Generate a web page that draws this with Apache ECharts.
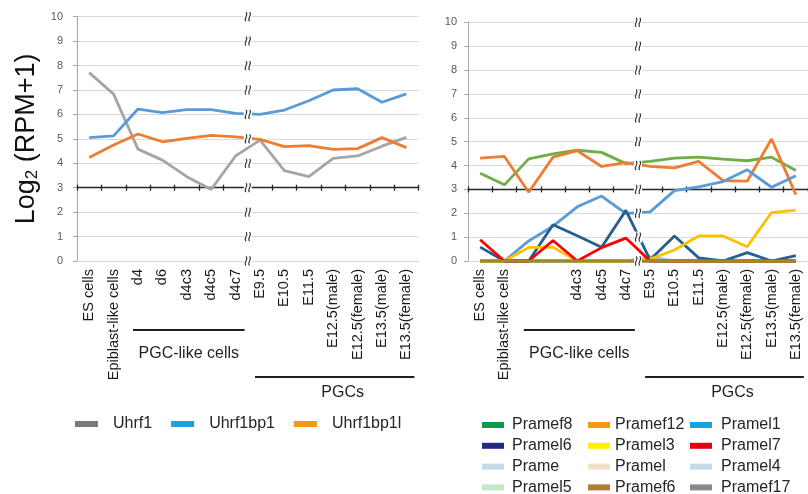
<!DOCTYPE html>
<html><head><meta charset="utf-8">
<script src="https://cdn.jsdelivr.net/npm/echarts/dist/echarts.min.js"></script>
<style>html,body{margin:0;padding:0;background:#fff}#c{width:808px;height:494px}</style>
</head><body><div id="c"></div>
<script>
// ---------- data ----------
const categories = ['ES cells','Epiblast-like cells','d4','d6','d4c3','d4c5','d4c7','E9.5','E10.5','E11.5','E12.5(male)','E12.5(female)','E13.5(male)','E13.5(female)'];
const rightTickLabels = ['ES cells','Epiblast-like cells','','','d4c3','d4c5','d4c7','E9.5','E10.5','E11.5','E12.5(male)','E12.5(female)','E13.5(male)','E13.5(female)'];
const groupLabels = ['PGC-like cells','PGCs'];

const uhrf1     = [7.71, 6.83, 4.58, 4.13, 3.45, 2.93, 4.30, 4.95, 3.70, 3.45, 4.20, 4.30, 4.70, 5.06];
const uhrf1bp1  = [5.05, 5.12, 6.22, 6.07, 6.20, 6.20, 6.04, 6.00, 6.18, 6.56, 7.00, 7.05, 6.50, 6.84];
const uhrf1bp1l = [4.24, 4.75, 5.20, 4.88, 5.02, 5.14, 5.08, 4.98, 4.68, 4.72, 4.57, 4.60, 5.05, 4.64];

const pramef8  = [3.68, 3.19, 4.28, 4.49, 4.64, 4.55, 4.08, 4.17, 4.31, 4.35, 4.27, 4.20, 4.35, 3.79];
const pramef12 = [4.31, 4.38, 2.88, 4.35, 4.62, 3.96, 4.12, 3.96, 3.90, 4.17, 3.37, 3.35, 5.11, 2.78];
const pramel1  = [0, 0, 0.84, 1.46, 2.27, 2.72, 1.99, 2.06, 2.95, 3.11, 3.33, 3.82, 3.09, 3.57];
const pramel6  = [0.58, 0, 0, 1.52, 1.06, 0.58, 2.12, 0.05, 1.05, 0.13, 0, 0.35, 0, 0.23];
const pramel3  = [0, 0, 0.57, 0.57, 0, 0, 0, 0.08, 0.46, 1.05, 1.05, 0.60, 2.03, 2.13];
const pramel7  = [0.89, 0, 0, 0.86, 0, 0.56, 0.96, 0, 0, 0, 0, 0, 0, 0];
const prame    = [0, 0, 0, 0, 0, 0, 0, 0.18, 0, 0, 0, 0, 0, 0];
const pramel   = [0, 0, 0, 0, 0, 0, 0, 0, 0, 0, 0, 0, 0, 0];
const pramel4  = [0, 0, 0, 0, 0, 0, 0, 0, 0, 0, 0, 0, 0, 0];
const pramel5  = [0, 0, 0, 0, 0, 0, 0, 0, 0, 0, 0, 0, 0, 0];
const pramef6  = [0, 0, 0, 0, 0, 0, 0, 0, 0, 0, 0, 0, 0, 0];
const pramef17 = [0, 0, 0, 0, 0, 0, 0, 0, 0, 0, 0, 0, 0, 0];

// ---------- styles ----------
const FONT = '"Liberation Sans", Arial, sans-serif';
const leftDefs = [
  {name:'Uhrf1', data:uhrf1, line:'#a5a5a5', legend:'#7b7b7b'},
  {name:'Uhrf1bp1', data:uhrf1bp1, line:'#5b9bd5', legend:'#1fa0e0'},
  {name:'Uhrf1bp1l', data:uhrf1bp1l, line:'#ed7d31', legend:'#f39a12'}
];
const rightDefs = [
  {name:'Prame', data:prame, line:'#a9c9e6', legend:'#c5dbe9'},
  {name:'Pramel', data:pramel, line:'#f2e0c8', legend:'#f2e0c8'},
  {name:'Pramel4', data:pramel4, line:'#c5dbe9', legend:'#c5dbe9'},
  {name:'Pramel5', data:pramel5, line:'#c6e6c8', legend:'#c6e6c8'},
  {name:'Pramef17', data:pramef17, line:'#898989', legend:'#898989'},
  {name:'Pramef8', data:pramef8, line:'#70ad47', legend:'#0e9a48'},
  {name:'Pramef12', data:pramef12, line:'#ed7d31', legend:'#f39a12'},
  {name:'Pramel1', data:pramel1, line:'#5b9bd5', legend:'#1aa1e1'},
  {name:'Pramel6', data:pramel6, line:'#255e91', legend:'#1f2a80'},
  {name:'Pramel3', data:pramel3, line:'#ffc000', legend:'#ffee00'},
  {name:'Pramel7', data:pramel7, line:'#ff0000', legend:'#e60012'},
  {name:'Pramef6', data:pramef6, line:'#9e8a24', legend:'#b07c3a'}
];
const rightLegendCols = [
  ['Pramef8','Pramel6','Prame','Pramel5'],
  ['Pramef12','Pramel3','Pramel','Pramef6'],
  ['Pramel1','Pramel7','Pramel4','Pramef17']
];

const chart = echarts.init(document.getElementById('c'));

const G = [
  {left:77, top:16.7, width:341.6, height:244.3},
  {left:468, top:22.3, width:340, height:238.7}
];
const grids = [
  Object.assign({outerBoundsMode:'none', containLabel:false}, G[0]),
  Object.assign({outerBoundsMode:'none', containLabel:false}, G[1]),
  {outerBoundsMode:'none', containLabel:false, left:G[0].left, top:G[0].top, width:G[0].width, height:G[0].height*0.7},
  {outerBoundsMode:'none', containLabel:false, left:G[1].left, top:G[1].top, width:G[1].width, height:G[1].height*0.7}
];

function mainX(gi, fmt){
  return {type:'category', gridIndex:gi, data:categories, boundaryGap:true, position:'bottom',
    axisLine:{show:true, onZero:false, lineStyle:{color:'#d9d9d9', width:1}},
    axisTick:{show:false},
    axisLabel:{show:true, interval:0, rotate:90, margin:8, fontSize:14.5, fontFamily:FONT, color:'#1a1a1a',
      formatter: fmt},
    splitLine:{show:false}};
}
function overlayX(gi, inside){
  return {type:'category', gridIndex:gi, data:categories, boundaryGap:true, position:'bottom',
    axisLine:{show:!inside, onZero:false, lineStyle:{color:'#262626', width:1.3}},
    axisTick:{show:true, inside:inside, length:3, interval:0, lineStyle:{color:'#262626', width:1.3}},
    axisLabel:{show:false}, splitLine:{show:false}};
}
function mainY(gi, withName, margin){
  const y = {type:'value', gridIndex:gi, min:0, max:10, interval:1,
    axisLine:{show:true, lineStyle:{color:'#a6a6a6', width:1}},
    axisTick:{show:true, length:4, lineStyle:{color:'#a6a6a6'}},
    axisLabel:{show:true, margin:margin, fontSize:11, fontFamily:FONT, color:'#595959'},
    splitLine:{show:true, lineStyle:{color:'#d9d9d9', width:1}}};
  if (withName) {
    y.name = '{a|Log}{b|2}{a| (RPM+1)}';
    y.nameLocation = 'middle';
    y.nameRotate = 90;
    y.nameGap = 36;
    y.nameTextStyle = {rich:{
      a:{fontSize:27, fontFamily:FONT, color:'#111'},
      b:{fontSize:17, fontFamily:FONT, color:'#111', verticalAlign:'bottom', padding:[12,0,0,0]}
    }};
  }
  return y;
}
function overlayY(gi){
  return {type:'value', gridIndex:gi, min:3, max:10, show:false, splitLine:{show:false}};
}

const series = [];
leftDefs.forEach(d => series.push({type:'line', name:d.name, data:d.data, xAxisIndex:0, yAxisIndex:0,
  symbol:'none', color:d.line, lineStyle:{color:d.line, width:2.8}, clip:false, z:3}));
rightDefs.forEach(d => series.push({type:'line', name:d.name, data:d.data, xAxisIndex:1, yAxisIndex:1,
  symbol:'none', color:d.line, lineStyle:{color:d.line, width:2.8}, clip:false, z:3}));

const colorOf = {};
leftDefs.concat(rightDefs).forEach(d => colorOf[d.name] = d.legend);
const legendText = {fontSize:16, fontFamily:FONT, color:'#262626'};

const legends = [
  {left:75, top:416, orient:'horizontal', padding:0, itemGap:19, itemWidth:23, itemHeight:6, icon:'rect',
   selectedMode:false, textStyle:Object.assign({padding:[0,0,0,10]}, legendText),
   data: leftDefs.map(d => ({name:d.name, itemStyle:{color:d.legend, borderWidth:0}}))}
];
const colLefts = [482, 588, 690];
const colPads = [3, 0, 4];
rightLegendCols.forEach((col, i) => legends.push({
  left:colLefts[i], top:417, height:120, width:120, orient:'vertical', padding:0, itemGap:4.8, itemWidth:22, itemHeight:6, icon:'rect',
  selectedMode:false, textStyle:Object.assign({padding:[0,0,0,colPads[i]]}, legendText),
  data: col.map(n => ({name:n, itemStyle:{color:colorOf[n], borderWidth:0}}))
}));

chart.setOption({
  animation:false,
  backgroundColor:'#fff',
  grid:grids,
  xAxis:[mainX(0), mainX(1, (v, i) => rightTickLabels[i]), overlayX(2,false), overlayX(2,true), overlayX(3,false), overlayX(3,true)],
  yAxis:[mainY(0,true,14), mainY(1,false,11), overlayY(2), overlayY(3)],
  legend:legends,
  series:series
});

// ---------- decorations (axis break marks, group brackets) ----------
function xpix(ax, i){ return chart.convertToPixel({xAxisIndex:ax}, i); }
function ypix(ax, v){ return chart.convertToPixel({yAxisIndex:ax}, v); }
const graphics = [];
[0,1].forEach(p => {
  const bx = (xpix(p, 6) + xpix(p, 7)) / 2;
  for (let v = 0; v <= 10; v++) {
    const y = ypix(p, v);
    graphics.push({type:'rect', z:100, shape:{x:bx-4, y:y-5.5, width:8, height:11}, style:{fill:'#fff'}});
    [-1.8, 1.8].forEach(dx => {
      graphics.push({type:'bezierCurve', z:101,
        shape:{x1:bx+dx, y1:y-4.5, x2:bx+dx, y2:y+4.5, cpx1:bx+dx+3.2, cpy1:y-1.5, cpx2:bx+dx-3.2, cpy2:y+1.5},
        style:{stroke:'#333', lineWidth:1.1, fill:null}});
    });
  }
  const a1 = xpix(p, 2) - 5, a2 = xpix(p, 6) + 9;
  const b1 = xpix(p, 7) - 5, b2 = xpix(p, 13) + 8;
  graphics.push({type:'line', z:100, shape:{x1:a1, y1:330, x2:a2, y2:330}, style:{stroke:'#231f20', lineWidth:2}});
  graphics.push({type:'text', z:100, x:(a1+a2)/2, y:354, style:{text:groupLabels[0], fontSize:16, fontFamily:FONT, fill:'#231f20', align:'center', verticalAlign:'middle'}});
  graphics.push({type:'line', z:100, shape:{x1:b1, y1:377, x2:b2, y2:377}, style:{stroke:'#231f20', lineWidth:2}});
  graphics.push({type:'text', z:100, x:(b1+b2)/2 + 8, y:393, style:{text:groupLabels[1], fontSize:16, fontFamily:FONT, fill:'#231f20', align:'center', verticalAlign:'middle'}});
});
chart.setOption({graphic:graphics});
</script>
</body></html>
